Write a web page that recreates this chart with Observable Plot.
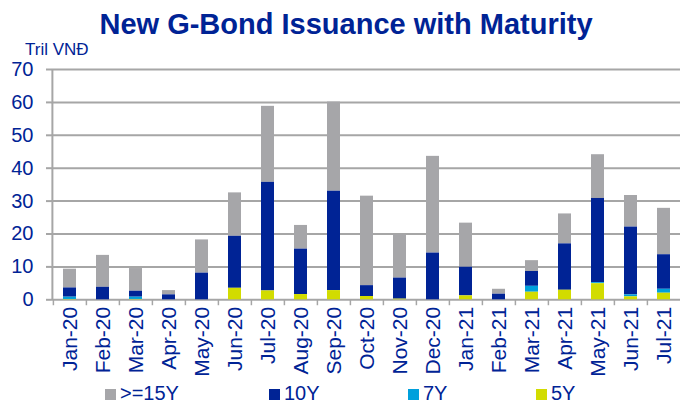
<!DOCTYPE html>
<html>
<head>
<meta charset="utf-8">
<script src="https://cdn.jsdelivr.net/npm/d3@7"></script>
<script src="https://cdn.jsdelivr.net/npm/@observablehq/plot@0.6"></script>
<style>
  html, body { margin: 0; padding: 0; background: #fff; overflow: hidden; }
  #wrap { position: relative; width: 680px; height: 403px; overflow: hidden; font-family: "Liberation Sans", Arial, sans-serif; color: #002395; }
  #title { position: absolute; left: 0; top: 10px; width: 680px; padding-left: 12px; box-sizing: border-box; text-align: center; font-size: 29px; line-height: 29px; font-weight: bold; white-space: nowrap; }
  #unit { position: absolute; left: 25px; top: 41px; font-size: 17px; line-height: 17px; white-space: nowrap; }
  #chart { position: absolute; left: 0; top: 40px; }
  .leg { position: absolute; top: 386px; font-size: 20px; line-height: 14px; white-space: nowrap; }
  .sw { position: absolute; top: 389px; width: 11px; height: 11px; }
</style>
</head>
<body>
<div id="wrap">
  <div id="title">New G-Bond Issuance with Maturity</div>
  <div id="chart"></div>
  <div id="unit">Tril VNĐ</div>
  <div id="legend"></div>
</div>
<script>
const months = ["Jan-20","Feb-20","Mar-20","Apr-20","May-20","Jun-20","Jul-20","Aug-20","Sep-20","Oct-20","Nov-20","Dec-20","Jan-21","Feb-21","Mar-21","Apr-21","May-21","Jun-21","Jul-21"];
const series = [">=15Y", "10Y", "7Y", "5Y"];
const y15 = [5.7, 9.7, 6.9, 1.3, 10.1, 13.2, 23.1, 7.2, 27.1, 27.2, 13.2, 29.4, 13.4, 1.5, 3.3, 9.1, 13.3, 9.6, 14.1];
const y10 = [2.8, 3.8, 1.8, 1.5, 8.1, 15.8, 33.0, 13.8, 30.2, 3.3, 6.4, 14.2, 8.7, 1.7, 4.5, 14.1, 25.6, 20.6, 10.5];
const y7  = [0.7, 0, 0.7, 0, 0, 0, 0, 0, 0, 0, 0, 0, 0, 0, 1.8, 0, 0.3, 0.6, 1.2];
const y5  = [0.1, 0, 0.1, 0, 0, 3.5, 2.7, 1.6, 2.8, 1.0, 0.2, 0, 1.2, 0, 2.3, 2.9, 4.9, 0.9, 2.0];
const yTicks = [0, 10, 20, 30, 40, 50, 60, 70];
const colors = ["#a6a6a9", "#002395", "#00a0dc", "#d2dc00"];

const navy = "#002395";
const grid = "#a6a6a6";
const valuesBySeries = {">=15Y": y15, "10Y": y10, "7Y": y7, "5Y": y5};
const data = [];
series.forEach(s => months.forEach((m, i) => data.push({month: m, series: s, value: valuesBySeries[s][i]})));

const W = 680, H = 348, mL = 51, mR = -2, mT = 29, mB = 88.7;
const step = (W - mL - mR) / months.length;

const chart = Plot.plot({
  width: W, height: H,
  marginLeft: mL, marginRight: mR, marginTop: mT, marginBottom: mB,
  style: {fontFamily: "'Liberation Sans', Arial, sans-serif", color: navy, background: "transparent", overflow: "visible"},
  x: {domain: months, paddingInner: 0.6, paddingOuter: 0.3, axis: null, label: null},
  y: {domain: [0, 70], axis: null, label: null},
  color: {domain: series, range: colors},
  marks: [
    Plot.gridY(yTicks, {stroke: grid, strokeOpacity: 1, strokeWidth: 2}),
    Plot.barY(data, Plot.stackY({x: "month", y: "value", fill: "series", order: ["5Y", "7Y", "10Y", ">=15Y"]})),
    // y axis line
    Plot.ruleX([months[0]], {dx: -step / 2 - 1, y1: 0, y2: 70, stroke: grid, strokeWidth: 2}),
    // category boundary ticks
    Plot.ruleX(months, {x: d => d, dx: -step / 2, y1: 0, y2: -1.8, stroke: grid, strokeWidth: 1.5}),
    Plot.axisY(yTicks, {tickSize: 5, tickPadding: 13, fontSize: 20, stroke: grid, fill: navy, strokeWidth: 2, tickFormat: d => d, label: null}),
    Plot.axisX(months, {tickSize: 0, tickPadding: 7, tickRotate: -90, fontSize: 21, fill: navy, label: null})
  ]
});
document.getElementById("chart").appendChild(chart);

// legend
const legX = [105, 269, 408, 536];
const leg = document.getElementById("legend");
series.forEach((s, i) => {
  const sw = document.createElement("div");
  sw.className = "sw";
  sw.style.left = legX[i] + "px";
  sw.style.background = colors[i];
  leg.appendChild(sw);
  const t = document.createElement("div");
  t.className = "leg";
  t.style.left = (legX[i] + 15) + "px";
  t.textContent = s;
  leg.appendChild(t);
});
</script>
</body>
</html>
